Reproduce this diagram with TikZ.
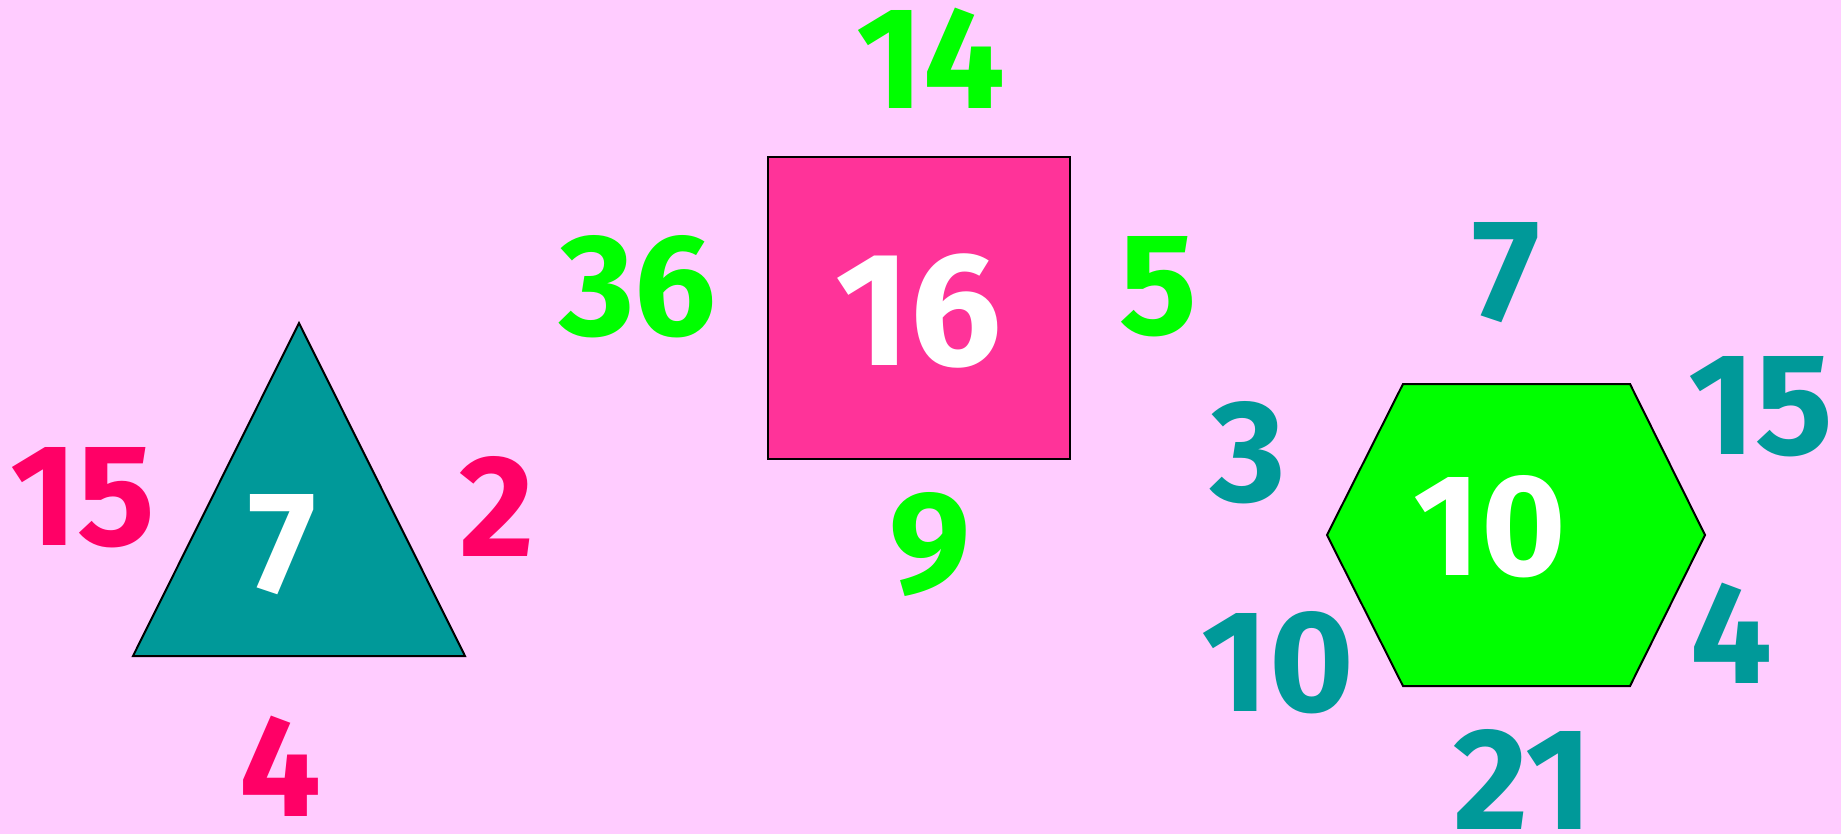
\documentclass[tikz,border=0pt]{standalone}
\usepackage{fontspec}
\setmainfont{Fira Sans}
\usepackage{xcolor}
\usetikzlibrary{positioning}
\definecolor{blush}{HTML}{FFCCFF}
\definecolor{sea}{HTML}{009999}
\definecolor{rose}{HTML}{FF3399}
\definecolor{lime}{HTML}{00FF00}
\definecolor{cherry}{HTML}{FF0066}
\tikzset{
  num/.style     = {font=\bfseries\fontsize{145}{145}\selectfont,
                    inner sep=0pt, anchor=center},
  big/.style     = {num, font=\bfseries\fontsize{162}{162}\selectfont},
  outline/.style = {draw=black, line width=2pt, line join=miter},
}

\begin{document}
\begin{tikzpicture}[x=1pt, y=-1pt]

% ---- page -------------------------------------------------------------
\fill[blush] (0,0) rectangle (1841,834);
\useasboundingbox (0,0) rectangle (1841,834);

% ---- shapes -----------------------------------------------------------
\draw[outline, fill=sea]  (133,656) -- (299,323) -- (465,656) -- cycle;
\draw[outline, fill=rose] (768,157) rectangle (1070,459);
\draw[outline, fill=lime] (1327,535) -- (1403,384) -- (1630,384)
  -- (1705,535) -- (1630,686) -- (1403,686) -- cycle;

% ---- triangle numbers -------------------------------------------------
\node[num, text=white]  at (282,545) (tri)  {7};
\node[num, text=cherry] at (83,498)  (triA) {15};
\node[num, text=cherry] at (497,506) (triB) {2};
\node[num, text=cherry] at (280,766) (triC) {4};

% ---- square numbers ---------------------------------------------------
\node[big, text=white] at (919,311)  (sqr)  {16};
\node[num, text=lime]  at (931,58)   (sqrA) {14};
\node[num, text=lime]  at (638,287)  (sqrB) {36};
\node[num, text=lime]  at (1158,287) (sqrC) {5};
\node[num, text=lime]  at (930,545)  (sqrD) {9};

% ---- hexagon numbers --------------------------------------------------
\node[num, text=white] at (1490,527) (hex)  {10};
\node[num, text=sea]   at (1506,273) (hexA) {7};
\node[num, text=sea]   at (1761,407) (hexB) {15};
\node[num, text=sea]   at (1248,453) (hexC) {3};
\node[num, text=sea]   at (1278,663) (hexD) {10};
\node[num, text=sea]   at (1731,633) (hexE) {4};
\node[num, text=sea]   at (1523,779) (hexF) {21};

\end{tikzpicture}
\end{document}
